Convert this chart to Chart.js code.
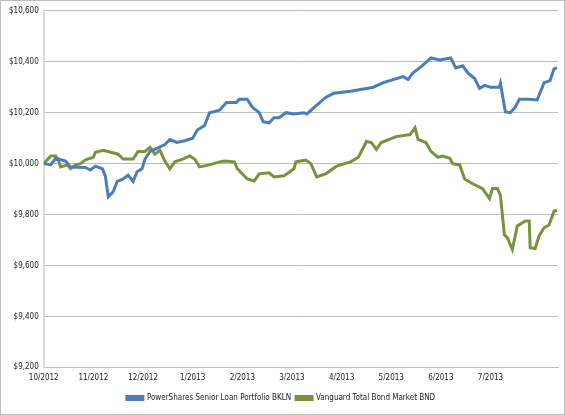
<!DOCTYPE html>
<html>
<head>
<meta charset="utf-8">
<script src="https://cdn.jsdelivr.net/npm/chart.js@4"></script>
<style>
  body { margin: 0; background: #fff; }
  #wrap { width: 563px; height: 413px; border: 1px solid #bdbdbd; }
</style>
</head>
<body>
<div id="wrap"><canvas id="growthChart" width="563" height="413"></canvas></div>
<script>
// x values are months since 10/2012
const monthLabels = ['10/2012', '11/2012', '12/2012', '1/2013', '2/2013', '3/2013', '4/2013', '5/2013', '6/2013', '7/2013'];

const bklnX = [0, .14, .24, .44, .54, .84, .94, 1.04, 1.18, 1.24, 1.3, 1.4, 1.48, 1.6, 1.7, 1.8, 1.88, 1.98, 2.04, 2.14, 2.28, 2.44, 2.54, 2.68, 2.84, 3.0, 3.1, 3.24, 3.34, 3.54, 3.68, 3.88, 3.94, 4.1, 4.2, 4.34, 4.42, 4.54, 4.64, 4.74, 4.88, 5.04, 5.24, 5.3, 5.5, 5.68, 5.84, 6.18, 6.64, 6.84, 7.24, 7.34, 7.44, 7.6, 7.8, 7.98, 8.2, 8.3, 8.44, 8.54, 8.68, 8.78, 8.88, 9.0, 9.18, 9.2, 9.3, 9.4, 9.5, 9.58, 9.78, 9.94, 10.08, 10.2, 10.28, 10.34];
const bklnY = [10000, 9995, 10021, 10010, 9987, 9985, 9975, 9990, 9980, 9952, 9870, 9890, 9930, 9940, 9955, 9930, 9968, 9980, 10018, 10048, 10060, 10075, 10095, 10083, 10090, 10100, 10133, 10150, 10200, 10210, 10240, 10240, 10253, 10253, 10222, 10200, 10165, 10160, 10180, 10180, 10200, 10195, 10200, 10195, 10230, 10260, 10276, 10284, 10300, 10318, 10342, 10330, 10357, 10380, 10415, 10407, 10415, 10376, 10384, 10357, 10334, 10295, 10307, 10300, 10300, 10315, 10203, 10200, 10222, 10253, 10253, 10250, 10318, 10326, 10372, 10376];

const bndX = [0, .14, .24, .3, .34, .48, .54, .64, .74, .84, 1.0, 1.04, 1.2, 1.5, 1.6, 1.8, 1.9, 2.04, 2.14, 2.24, 2.34, 2.44, 2.54, 2.64, 2.8, 2.94, 3.04, 3.14, 3.34, 3.54, 3.64, 3.84, 3.9, 4.1, 4.24, 4.34, 4.54, 4.64, 4.84, 5.04, 5.08, 5.28, 5.38, 5.5, 5.68, 5.9, 6.18, 6.34, 6.5, 6.6, 6.7, 6.8, 7.1, 7.38, 7.48, 7.54, 7.7, 7.8, 7.94, 8.04, 8.18, 8.24, 8.38, 8.48, 8.64, 8.84, 8.98, 9.04, 9.14, 9.2, 9.28, 9.34, 9.44, 9.54, 9.7, 9.78, 9.8, 9.9, 9.98, 10.08, 10.18, 10.28, 10.34];
const bndY = [10000, 10030, 10030, 10010, 9987, 9995, 9980, 9995, 10000, 10015, 10025, 10045, 10052, 10037, 10018, 10018, 10048, 10048, 10064, 10037, 10052, 10010, 9980, 10007, 10018, 10030, 10018, 9987, 9995, 10007, 10010, 10007, 9980, 9940, 9932, 9960, 9964, 9948, 9952, 9980, 10007, 10014, 10000, 9948, 9960, 9990, 10007, 10025, 10087, 10083, 10056, 10083, 10106, 10114, 10141, 10095, 10083, 10048, 10025, 10030, 10021, 10000, 9995, 9940, 9921, 9902, 9863, 9902, 9902, 9875, 9720, 9709, 9663, 9755, 9775, 9775, 9670, 9667, 9717, 9748, 9759, 9813, 9817];

const yTicks = [9200, 9400, 9600, 9800, 10000, 10200, 10400, 10600];

function toPoints(xs, ys) {
    return ys.map(function(v, i) { return { x: xs[i], y: v }; });
}

const chartGrowthData = {
    datasets: [{
        label: 'PowerShares Senior Loan Portfolio BKLN',
        data: toPoints(bklnX, bklnY),
        borderColor: '#4a7ebb',
        backgroundColor: '#4a7ebb',
        borderWidth: 3,
        pointRadius: 0,
        tension: 0
    }, {
        label: 'Vanguard Total Bond Market BND',
        data: toPoints(bndX, bndY),
        borderColor: '#77933c',
        backgroundColor: '#77933c',
        borderWidth: 3,
        pointRadius: 0,
        tension: 0
    }]
};

const chartFont = { family: "'Liberation Sans Narrow', 'DejaVu Sans Condensed', Arial, sans-serif", size: 8 };

const chartGrowthOptions = {
    responsive: false,
    animation: false,
    layout: { padding: { top: 3, right: 6, left: 3, bottom: 2 } },
    scales: {
        x: {
            type: 'linear',
            min: 0,
            max: 10.36,
            afterBuildTicks: function(axis) {
                axis.ticks = monthLabels.map(function(l, i) { return { value: i }; });
            },
            ticks: {
                color: '#222',
                font: chartFont,
                maxRotation: 0,
                padding: 6,
                callback: function(value) { return monthLabels[value]; }
            },
            grid: { display: false, drawTicks: false },
            border: { color: '#bdbdbd', width: 1 }
        },
        y: {
            min: 9200,
            max: 10600,
            afterBuildTicks: function(axis) {
                axis.ticks = yTicks.map(function(v) { return { value: v }; });
            },
            ticks: {
                color: '#222',
                font: chartFont,
                padding: 5,
                callback: function(value) { return '$' + value.toLocaleString('en-US'); }
            },
            grid: { color: '#bdbdbd', drawTicks: false },
            border: { color: '#d9d9d9', width: 2 }
        }
    },
    plugins: {
        tooltip: { enabled: false },
        legend: {
            position: 'bottom',
            labels: {
                color: '#222',
                font: chartFont,
                boxWidth: 16,
                boxHeight: 3,
                padding: 5
            }
        }
    }
};

const ctxGrowth = document.getElementById('growthChart').getContext('2d');
const growthChart = new Chart(ctxGrowth, {
    type: 'line',
    data: chartGrowthData,
    options: chartGrowthOptions
});
</script>
</body>
</html>
